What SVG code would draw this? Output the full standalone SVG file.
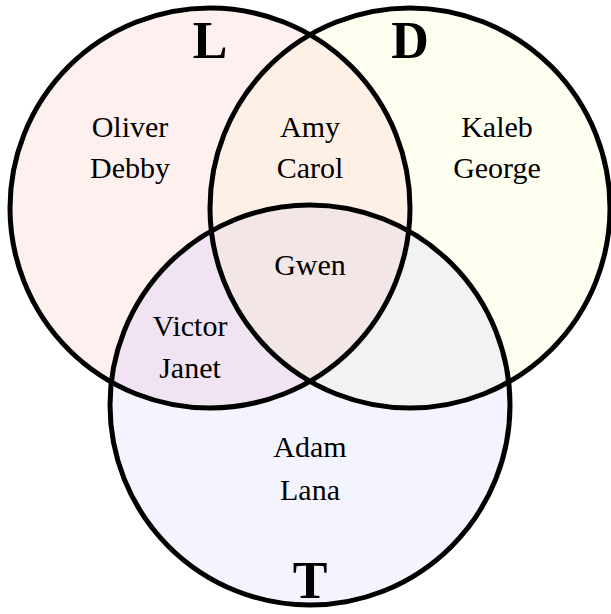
<svg xmlns="http://www.w3.org/2000/svg" width="611" height="614" viewBox="0 0 611 614">
<style>
.name{font-family:'Liberation Serif','Times New Roman',Times,serif;font-weight:normal;font-size:30px;fill:#000;text-anchor:middle}
.set{font-family:'Liberation Serif','Times New Roman',Times,serif;font-size:52px;font-weight:bold;fill:#000;text-anchor:middle}
.ring{fill:none;stroke:#000;stroke-width:5}
</style>
<defs>
<clipPath id="cL"><circle cx="210" cy="208" r="200"/></clipPath>
<clipPath id="cD"><circle cx="410" cy="208" r="200"/></clipPath>
<clipPath id="cT"><circle cx="310" cy="405" r="200"/></clipPath>
</defs>
<rect width="611" height="614" fill="#fff"/>
<g id="fills">
<circle cx="210" cy="208" r="200" fill="#fff0f0"/>
<circle cx="410" cy="208" r="200" fill="#fffff0"/>
<circle cx="310" cy="405" r="200" fill="#f4f4ff"/>
<circle cx="410" cy="208" r="200" fill="#fff0e6" clip-path="url(#cL)"/>
<circle cx="310" cy="405" r="200" fill="#f0e4f2" clip-path="url(#cL)"/>
<circle cx="310" cy="405" r="200" fill="#f2f2f2" clip-path="url(#cD)"/>
<g clip-path="url(#cL)"><circle cx="310" cy="405" r="200" fill="#f2e6e6" clip-path="url(#cD)"/></g>
</g>
<g id="connectors"></g>
<g id="set-L"><circle class="ring" cx="210" cy="208" r="200"/><text class="set" x="210" y="58">L</text></g>
<g id="set-D"><circle class="ring" cx="410" cy="208" r="200"/><text class="set" x="410" y="58">D</text></g>
<g id="set-T"><circle class="ring" cx="310" cy="405" r="200"/><text class="set" x="310" y="598">T</text></g>
<g id="only-L"><text class="name" x="130" y="137">Oliver</text><text class="name" x="130" y="178">Debby</text></g>
<g id="L-D"><text class="name" x="310" y="137">Amy</text><text class="name" x="310" y="178">Carol</text></g>
<g id="only-D"><text class="name" x="497" y="137">Kaleb</text><text class="name" x="497" y="178">George</text></g>
<g id="all"><text class="name" x="310" y="275">Gwen</text></g>
<g id="L-T"><text class="name" x="190" y="336">Victor</text><text class="name" x="190" y="378">Janet</text></g>
<g id="only-T"><text class="name" x="310" y="457">Adam</text><text class="name" x="310" y="500">Lana</text></g>
</svg>
